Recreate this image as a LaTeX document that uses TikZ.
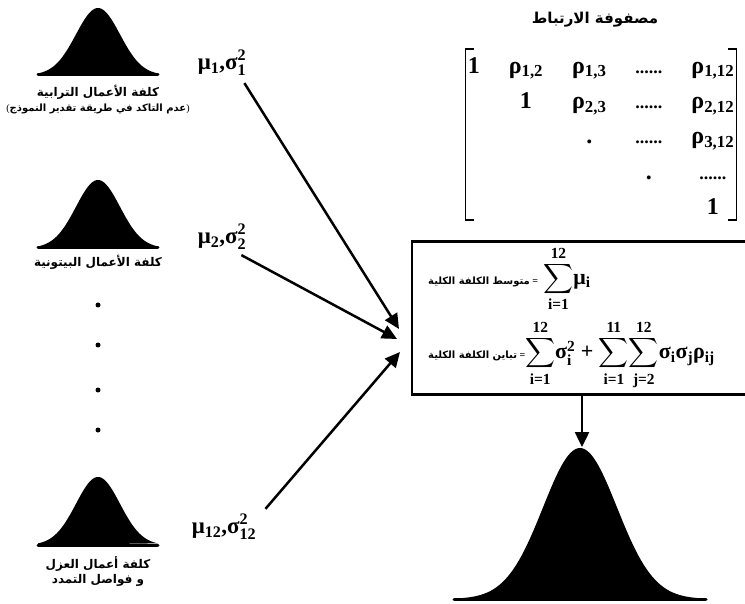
\documentclass[tikz,border=0pt]{standalone}
\usepackage{amsmath}
\usepackage{fontspec}
\setmainfont{Liberation Serif}
\newfontfamily\arabicfont[Script=Arabic]{DejaVu Sans}
\TeXXeTstate=1
\usetikzlibrary{positioning, arrows.meta, calc, matrix}

\newcommand{\artext}[1]{{\arabicfont\bfseries\beginR #1\endR}}
\newcommand{\msig}[1]{μ$_{\text{#1}}$,σ$^{\text{2}}_{\text{#1}}$}
\newcommand{\bigsum}[2]{$\displaystyle\sum_{\text{#1}}^{\text{#2}}$}
% cx, base y, half width, height, spread
\newcommand{\bellcurve}[5]{%
  \fill (#1-#3,#2) -- plot[domain=-#3:#3, samples=90, smooth]
        ({#1+\x},{#2-#4*exp(-0.5*(\x/#5)*(\x/#5))}) -- cycle;
  \draw[line width=3pt, line cap=round] (#1-#3,#2) -- (#1+#3,#2);}

\tikzset{
  arr/.style={line width=2.5pt, -{Triangle[length=15pt,width=14pt]}},
  arlabel/.style={font=\fontsize{12}{15}\selectfont, align=center, inner sep=1pt},
  paramlabel/.style={font=\fontsize{23}{25}\selectfont\bfseries, inner sep=1pt},
  formrow/.style={anchor=west, font=\fontsize{22}{24}\selectfont\bfseries, inner sep=0pt},
  bracket/.style={line width=1.6pt},
  formbox/.style={draw, line width=2.5pt, minimum width=340, minimum height=153, inner sep=0pt}
}

\begin{document}
\begin{tikzpicture}[x=1pt, y=-1pt]
  \useasboundingbox (0,0) rectangle (745,604);
  \clip (0,0) rectangle (745,604);

  % input distributions
  \bellcurve{98}{75}{60}{67}{22}
  \bellcurve{98}{248}{60}{68}{22}
  \bellcurve{98}{545}{60}{68}{22}
  \bellcurve{580}{599}{126}{151}{37}

  \node[arlabel] (lab1) at (98,100) {\artext{كلفة الأعمال الترابية}\\
    {\fontsize{10}{13}\selectfont(\artext{عدم التاكد في طريقة تقدير النموذج})}};
  \node[arlabel] (lab2) at (98,262) {\artext{كلفة الأعمال البيتونية}};
  \node[arlabel] (lab12) at (98,572) {\artext{كلفة أعمال العزل}\\ \artext{و فواصل التمدد}};

  \foreach \y in {305,345,390,430}
    \fill (98,\y) circle (2.5);

  \node[paramlabel] (mu1) at (222,63) {\msig{1}};
  \node[paramlabel] (mu2) at (222,237) {\msig{2}};
  \node[paramlabel] (mu12) at (224,527) {\msig{12}};

  % correlation matrix
  \node[font=\fontsize{15}{17}\selectfont] (mtitle) at (595,20) {\artext{مصفوفة الارتباط}};
  \matrix (corr) at (601,139) [matrix of nodes, column sep=27, row sep=0, inner sep=1pt,
      nodes={font=\fontsize{24}{26}\selectfont\bfseries, text height=16, text depth=6,
             minimum height=35.5, inner sep=1pt}] {
    1 & ρ$_{\text{1,2}}$ & ρ$_{\text{1,3}}$ & {\fontsize{18}{20}\selectfont......} & ρ$_{\text{1,12}}$ \\
      & 1 & ρ$_{\text{2,3}}$ & {\fontsize{18}{20}\selectfont......} & ρ$_{\text{2,12}}$ \\
      &   & . & {\fontsize{18}{20}\selectfont......} & ρ$_{\text{3,12}}$ \\
      &   &   & . & {\fontsize{18}{20}\selectfont......} \\
      &   &   &   & 1 \\
  };
  \draw[bracket] ([xshift=8]corr.north west) -- (corr.north west)
    -- ([yshift=9]corr.south west) -- ++(8,0);
  \draw[bracket] ([xshift=-8]corr.north east) -- (corr.north east)
    -- ([yshift=9]corr.south east) -- ++(-8,0);

  % total cost
  \node[formbox] (total) at (582,318) {};
  \node[formrow] (meanrow) at (428,279)
    {{\fontsize{10}{12}\selectfont\artext{متوسط الكلفة الكلية} =} \bigsum{i=1}{12}μ$_{\text{i}}$};
  \node[formrow] (varrow) at (428,355)
    {{\fontsize{10}{12}\selectfont\artext{تباين الكلفة الكلية} =}\bigsum{i=1}{12}σ$^{\text{2}}_{\text{i}}$ +
     \bigsum{i=1}{11}\bigsum{j=2}{12}σ$_{\text{i}}$σ$_{\text{j}}$ρ$_{\text{ij}}$};

  \coordinate (tip1) at (399,329);
  \coordinate (tip2) at (397,339);
  \coordinate (tip3) at (400,352);
  \coordinate (bigtop) at (total.south |- 0,447);

  \draw[arr] ([xshift=-3,yshift=-6]mu1.south east) -- (tip1);
  \draw[arr] ([xshift=-6,yshift=-4]mu2.south east) -- (tip2);
  \draw[arr] ([xshift=8,yshift=4]mu12.north east) -- (tip3);
  \draw[arr] (total.south) -- (bigtop);
\end{tikzpicture}
\end{document}
